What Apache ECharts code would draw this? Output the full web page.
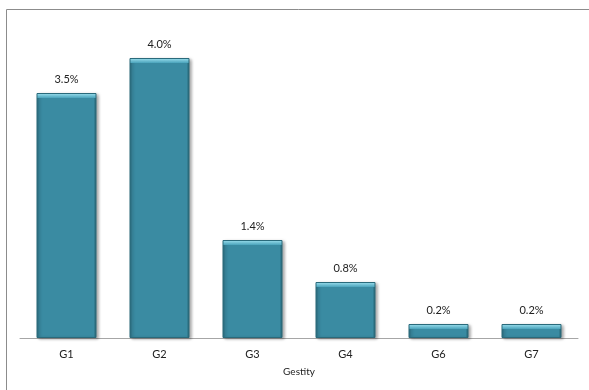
<!DOCTYPE html>
<html>
<head>
<meta charset="utf-8">
<script src="https://cdn.jsdelivr.net/npm/echarts@6/dist/echarts.min.js"></script>
<style>
  html, body { margin: 0; padding: 0; background: #fff; }
  #chart { width: 589px; height: 390px; }
</style>
</head>
<body>
<div id="chart"></div>
<script>
// data
const categories = ['G1', 'G2', 'G3', 'G4', 'G6', 'G7']
const values = [3.5, 4.0, 1.4, 0.8, 0.2, 0.2]
const axisName = 'Gestity'

const chart = echarts.init(document.getElementById('chart'))

// bar fill: dark edges left/right, teal body
const barFill = new echarts.graphic.LinearGradient(0, 0, 1, 0, [
  { offset: 0,    color: '#2b6b7d' },
  { offset: 0.05, color: '#3a8ba2' },
  { offset: 0.95, color: '#3a8ba2' },
  { offset: 1,    color: '#25606f' },
])

// thin light bevel along the top of each bar
function renderBevel(params, api) {
  const top = api.coord([api.value(0), api.value(1)])
  const w = 58
  return {
    type: 'rect',
    shape: { x: top[0] - w / 2, y: top[1] + 1, width: w, height: 4 },
    style: {
      fill: new echarts.graphic.LinearGradient(0, 0, 0, 1, [
        { offset: 0, color: '#8fd6e6' },
        { offset: 1, color: '#4aa3bb' },
      ]),
    },
    silent: true,
  }
}

chart.setOption({
  animation: false,
  textStyle: { fontFamily: 'Lato, "DejaVu Sans", sans-serif' },
  graphic: [
    // frame round the plot (top + left edge only visible)
    { type: 'rect', shape: { x: 6.5, y: 9.5, width: 700, height: 420 },
      style: { fill: 'none', stroke: '#8c8c8c', lineWidth: 1 }, silent: true },
  ],
  grid: { left: 20, right: 11, top: 23, bottom: 52 },
  xAxis: {
    type: 'category',
    data: categories,
    name: axisName,
    nameLocation: 'middle',
    nameGap: 29,
    nameTextStyle: { fontSize: 10, color: '#222' },
    axisLine: { lineStyle: { color: '#a6a6a6', width: 1 } },
    axisTick: { show: false },
    axisLabel: { fontSize: 11, color: '#222', margin: 11 },
  },
  yAxis: {
    type: 'value',
    min: 0, max: 4.5,
    show: false,
    splitLine: { show: false },
  },
  series: [{
    type: 'bar',
    data: values,
    barWidth: 60,
    itemStyle: {
      color: barFill,
      borderColor: '#2a6a7b',
      borderWidth: 1,
      shadowColor: 'rgba(0,0,0,0.35)',
      shadowBlur: 3,
      shadowOffsetX: 2,
      shadowOffsetY: 1,
    },
    label: {
      show: true,
      position: 'top',
      distance: 8,
      fontSize: 11,
      color: '#222',
      formatter: p => p.value.toFixed(1) + '%',
    },
  }, {
    type: 'custom',
    renderItem: renderBevel,
    data: values.map((v, i) => [i, v]),
    z: 3,
  }],
})
</script>
</body>
</html>
